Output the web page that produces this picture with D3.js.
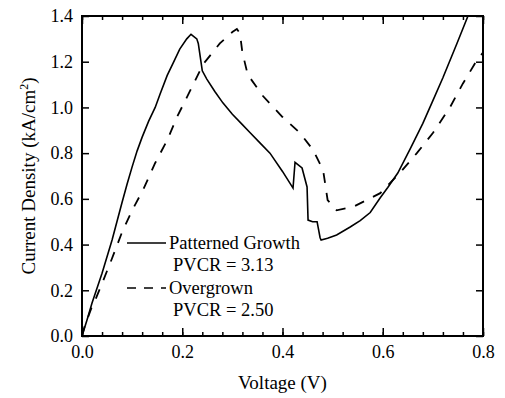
<!DOCTYPE html>
<html>
<head>
<meta charset="utf-8">
<script src="https://cdn.jsdelivr.net/npm/d3@7"></script>
<style>
  body { margin: 0; background: #fff; }
  text { font-family: "Liberation Serif", "Times New Roman", serif; fill: #000; }
</style>
</head>
<body>
<div id="chart"></div>
<script>
// Patterned growth (solid) [V, J]
const patterned = [
  [0, 0], [0.01, 0.07], [0.02, 0.144], [0.04, 0.275], [0.06, 0.42], [0.08, 0.585],
  [0.09, 0.665], [0.10, 0.74], [0.11, 0.81], [0.12, 0.87], [0.133, 0.94], [0.146, 1.0],
  [0.156, 1.06], [0.17, 1.14], [0.182, 1.195], [0.195, 1.255], [0.209, 1.30], [0.2175, 1.32],
  [0.229, 1.30], [0.232, 1.28], [0.236, 1.22], [0.24, 1.16], [0.249, 1.124], [0.265, 1.07],
  [0.281, 1.02], [0.30, 0.97], [0.319, 0.927], [0.335, 0.89], [0.355, 0.845], [0.375, 0.80],
  [0.40, 0.72], [0.421, 0.647], [0.425, 0.76], [0.439, 0.735], [0.449, 0.652], [0.451, 0.507],
  [0.46, 0.50], [0.469, 0.50], [0.475, 0.43], [0.477, 0.42], [0.49, 0.428], [0.508, 0.442],
  [0.535, 0.477], [0.555, 0.505], [0.575, 0.54], [0.595, 0.605], [0.61, 0.65], [0.63, 0.713],
  [0.655, 0.82], [0.68, 0.93], [0.70, 1.03], [0.72, 1.13], [0.748, 1.28], [0.77, 1.40]
];
// Overgrown (dashed)
const overgrown = [
  [0, 0], [0.005, 0.04], [0.02, 0.13], [0.025, 0.15], [0.04, 0.23], [0.06, 0.34],
  [0.08, 0.455], [0.10, 0.55], [0.122, 0.64], [0.146, 0.757], [0.17, 0.857], [0.19, 0.96],
  [0.215, 1.07], [0.242, 1.19], [0.275, 1.28], [0.30, 1.33], [0.309, 1.343], [0.315, 1.325],
  [0.32, 1.24], [0.331, 1.14], [0.335, 1.13], [0.361, 1.05], [0.40, 0.958], [0.435, 0.888],
  [0.461, 0.814], [0.481, 0.726], [0.49, 0.595], [0.508, 0.55], [0.541, 0.565], [0.595, 0.625],
  [0.634, 0.713], [0.668, 0.80], [0.70, 0.888], [0.734, 1.0], [0.76, 1.105], [0.788, 1.207],
  [0.8, 1.24]
];
const xTicks = [0, 0.2, 0.4, 0.6, 0.8];
const xMinor = d3.range(0, 0.8001, 0.04);
const yTicks = [0, 0.2, 0.4, 0.6, 0.8, 1.0, 1.2, 1.4];
const legendItems = [
  { label: "Patterned Growth", pvcr: "PVCR = 3.13", dash: null },
  { label: "Overgrown", pvcr: "PVCR = 2.50", dash: "9,8" }
];

const width = 505, height = 398;
const margin = { top: 16, right: 22, bottom: 62, left: 82 };

const svg = d3.select("#chart").append("svg")
  .attr("width", width)
  .attr("height", height);

const x = d3.scaleLinear().domain([0, 0.8]).range([margin.left, width - margin.right]);
const y = d3.scaleLinear().domain([0, 1.4]).range([height - margin.bottom, margin.top]);

const fmt = d3.format(".1f");

// clip so curves stay inside the frame
svg.append("clipPath").attr("id", "clip")
  .append("rect")
  .attr("x", x(0)).attr("y", y(1.4))
  .attr("width", x(0.8) - x(0)).attr("height", y(0) - y(1.4));

// axes, ticks pointing inward on all four sides
svg.append("g").attr("transform", `translate(0,${y(0)})`)
  .call(d3.axisBottom(x).tickValues(xTicks).tickSize(-8).tickPadding(9).tickFormat(fmt));
svg.append("g").attr("transform", `translate(0,${y(0)})`)
  .call(d3.axisBottom(x).tickValues(xMinor).tickSize(-4).tickFormat(""));
svg.append("g").attr("transform", `translate(0,${y(1.4)})`)
  .call(d3.axisTop(x).tickValues(xTicks).tickSize(-8).tickFormat(""));
svg.append("g").attr("transform", `translate(0,${y(1.4)})`)
  .call(d3.axisTop(x).tickValues(xMinor).tickSize(-4).tickFormat(""));
svg.append("g").attr("transform", `translate(${x(0)},0)`)
  .call(d3.axisLeft(y).tickValues(yTicks).tickSize(-7).tickPadding(9).tickFormat(fmt));
svg.append("g").attr("transform", `translate(${x(0.8)},0)`)
  .call(d3.axisRight(y).tickValues(yTicks).tickSize(-7).tickFormat(""));

svg.selectAll(".domain").remove();
svg.selectAll(".tick line").attr("stroke", "#000").attr("stroke-width", 1.5);
svg.selectAll(".tick text").style("font-size", "18px").attr("font-family", null);

// frame
svg.append("rect")
  .attr("x", x(0)).attr("y", y(1.4))
  .attr("width", x(0.8) - x(0)).attr("height", y(0) - y(1.4))
  .attr("fill", "none").attr("stroke", "#000").attr("stroke-width", 2);

// curves
const line = d3.line().x(d => x(d[0])).y(d => y(d[1]));
const curves = svg.append("g").attr("clip-path", "url(#clip)");
curves.append("path").datum(patterned)
  .attr("d", line).attr("fill", "none").attr("stroke", "#000").attr("stroke-width", 1.6);
curves.append("path").datum(overgrown)
  .attr("d", line).attr("fill", "none").attr("stroke", "#000").attr("stroke-width", 1.8)
  .attr("stroke-dasharray", "10,10");

// legend
const leg = svg.append("g");
legendItems.forEach((d, i) => {
  const ly = 243 + i * 45;
  leg.append("line")
    .attr("x1", 127).attr("x2", 166).attr("y1", ly).attr("y2", ly)
    .attr("stroke", "#000").attr("stroke-width", 1.6)
    .attr("stroke-dasharray", d.dash);
  leg.append("text").attr("x", 169).attr("y", ly + 5.5)
    .style("font-size", "18.5px").text(d.label);
  leg.append("text").attr("x", 173).attr("y", ly + 28)
    .style("font-size", "18.5px").text(d.pvcr);
});

// axis titles
svg.append("text")
  .attr("x", (x(0) + x(0.8)) / 2).attr("y", 389)
  .attr("text-anchor", "middle").style("font-size", "19px")
  .text("Voltage (V)");

const yt = svg.append("text")
  .attr("transform", `translate(35,${(y(0) + y(1.4)) / 2}) rotate(-90)`)
  .attr("text-anchor", "middle").style("font-size", "19px");
yt.append("tspan").text("Current Density (kA/cm");
yt.append("tspan").attr("dy", -7).style("font-size", "12px").text("2");
yt.append("tspan").attr("dy", 7).text(")");
</script>
</body>
</html>
